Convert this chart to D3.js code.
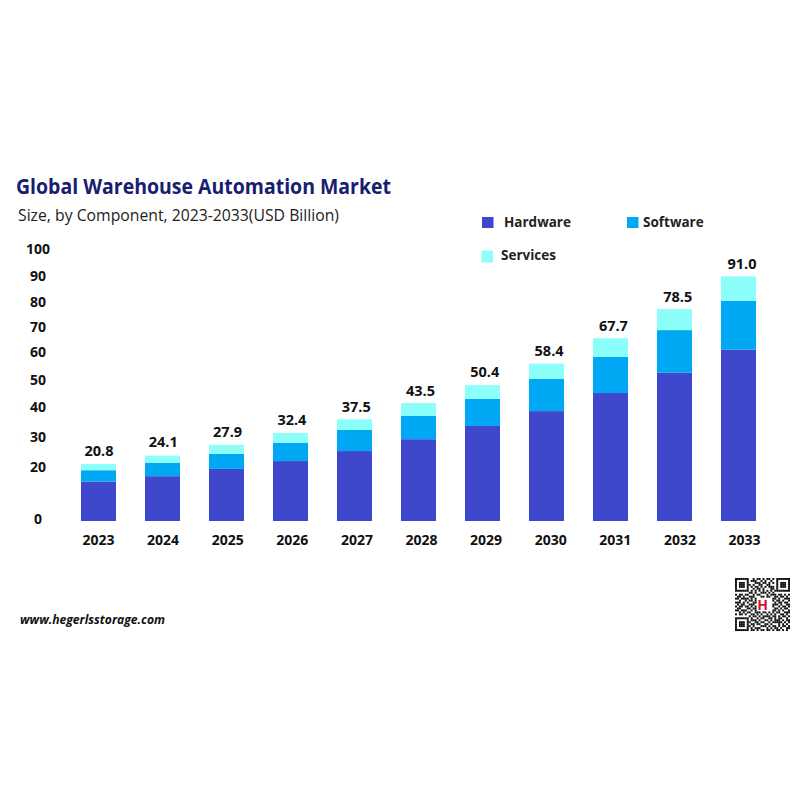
<!DOCTYPE html>
<html><head><meta charset="utf-8">
<script src="https://cdn.jsdelivr.net/npm/d3@7"></script>
<style>html,body{margin:0;padding:0;background:#fff}svg{display:block}text{font-family:"Open Sans",sans-serif}</style>
</head><body><div id="c"></div>
<script>
const years = ["2023","2024","2025","2026","2027","2028","2029","2030","2031","2032","2033"];
const hardware = [14.6,16.6,19.3,22.2,25.9,30.3,35.2,40.7,47.4,54.9,63.5];
const software = [4.2,5.0,5.6,6.8,7.8,8.6,10.0,11.9,13.4,15.8,18.0];
const services = [2.3,2.6,3.3,3.6,4.0,4.8,5.1,5.7,6.9,7.8,9.1];
const totals = [20.8,24.1,27.9,32.4,37.5,43.5,50.4,58.4,67.7,78.5,91.0];
const yTicks = [0,20,30,40,50,60,70,80,90,100];
const seriesNames = ["Hardware","Software","Services"];
const colors = ["#3f48cc","#00a8f3","#8cfffb"];
const qrRows = [
"1111111001011010110101111111",
"1000001011100101001001000001",
"1011101000111011010101011101",
"1011101101001100110001011101",
"1011101010110101011101011101",
"1000001001011010001101000001",
"1111111010101010101011111111",
"0000000110100111010100000000",
"1011011001011000101110110101",
"0110100111000110110011011010",
"1101111010100000000110100111",
"0010010110100000000101101001",
"1110101001100000000010110110",
"0101100111000000000111010011",
"1011011010100000000100101101",
"0110001101100000000011010110",
"1101110010100000000110101001",
"0010101100111011010101100111",
"1011010011010100101010011010",
"0000000101101011110110101101",
"1111111010010110011010110010",
"1000001011101001101011101011",
"1011101100110110010111110101",
"1011101011011001101000101010",
"1011101101000111010110101101",
"1000001010111000101011010011",
"1111111011010110110101101010",
"0000000000000000000000000000"];

const svg = d3.select("#c").append("svg").attr("width",800).attr("height",800);
svg.append("rect").attr("width",800).attr("height",800).attr("fill","#fff");

const x = d3.scaleBand().domain(years).range([66.5,770.5]).paddingInner(0.453).paddingOuter(0.2265);
const y = d3.scaleLinear().domain([0,100]).range([521,251]);
const rows = years.map((yr,i)=>({year:yr,Hardware:hardware[i],Software:software[i],Services:services[i]}));
const stack = d3.stack().keys(seriesNames)(rows);

svg.append("g").selectAll("g").data(stack).join("g").attr("fill",(d,i)=>colors[i])
  .selectAll("rect").data(d=>d).join("rect")
  .attr("x",d=>x(d.data.year)).attr("width",x.bandwidth())
  .attr("y",d=>y(d[1])).attr("height",d=>y(d[0])-y(d[1]));

// axis labels sit on their own scales, as in the picture
const xLabel = d3.scalePoint().domain(years).range([98,744]);
const gx = svg.append("g").attr("transform","translate(0,535)")
  .call(d3.axisBottom(xLabel).tickSize(0).tickPadding(0));
gx.select(".domain").remove();
gx.selectAll("text").attr("y",0).attr("dy","0.71em").attr("font-size",14).attr("font-weight",700).attr("fill","#111")
  .style("font-family",'"Open Sans",sans-serif');

const yLabel = d3.scaleLinear().domain([0,20,30,40,50,60,70,80,90,100]).range([519,467,437,407,380,352,327,302,276,249]);
const gy = svg.append("g").attr("transform","translate(38,0)")
  .call(d3.axisLeft(yLabel).tickValues(yTicks).tickFormat(d3.format("d")).tickSize(0).tickPadding(0));
gy.select(".domain").remove();
gy.selectAll("text").attr("x",0).attr("text-anchor","middle").attr("font-size",14).attr("font-weight",700).attr("fill","#111")
  .style("font-family",'"Open Sans",sans-serif');

// value labels
const lx = d3.scalePoint().domain(years).range([99,742]);
const ly = d3.scaleLinear().domain([0,100]).range([506.4,240]);
svg.append("g").selectAll("text").data(totals).join("text")
  .attr("x",(d,i)=>lx(years[i])).attr("y",d=>ly(d)).attr("dy","0.35em")
  .attr("text-anchor","middle").attr("font-size",14.5).attr("font-weight",700).attr("fill","#111")
  .text(d=>d.toFixed(1));

// titles
svg.append("text").attr("x",16).attr("y",194).attr("font-size",21).attr("font-weight",700).attr("fill","#16206f")
  .attr("textLength",375).attr("lengthAdjust","spacingAndGlyphs").text("Global Warehouse Automation Market");
svg.append("text").attr("x",18).attr("y",221).attr("font-size",15.5).attr("fill","#222")
  .attr("textLength",321).attr("lengthAdjust","spacingAndGlyphs").text("Size, by Component, 2023-2033(USD Billion)");

// legend
const legendPos = [{bx:482,by:217,tx:504,ty:222},{bx:627,by:217,tx:643,ty:222.5},{bx:481.5,by:250.5,tx:501,ty:255}];
const lg = svg.append("g").selectAll("g").data(seriesNames).join("g");
lg.append("rect").attr("x",(d,i)=>legendPos[i].bx).attr("y",(d,i)=>legendPos[i].by)
  .attr("width",11.5).attr("height",(d,i)=>i==2?12:11).attr("fill",(d,i)=>colors[i]);
lg.append("text").attr("x",(d,i)=>legendPos[i].tx).attr("y",(d,i)=>legendPos[i].ty).attr("dy","0.35em")
  .attr("font-size",13.5).attr("font-weight",700).attr("fill","#222").text(d=>d);

// footer
svg.append("text").attr("x",20).attr("y",623.5).attr("font-size",12).attr("font-weight",700).attr("font-style","italic")
  .attr("fill","#111").attr("textLength",145).attr("lengthAdjust","spacingAndGlyphs").text("www.hegerlsstorage.com");

// QR code
const qr = svg.append("g").attr("transform","translate(735,578)");
const m = 55/28;
qrRows.forEach((r,j)=>{ [...r].forEach((c,i)=>{ if(c==="1") qr.append("rect").attr("x",i*m).attr("y",j*m).attr("width",m).attr("height",m).attr("fill","#111"); }); });
qr.append("text").attr("x",27.5).attr("y",32).attr("text-anchor","middle").attr("font-size",14).attr("font-weight",700).attr("fill","#d0152b").text("H");
</script></body></html>
